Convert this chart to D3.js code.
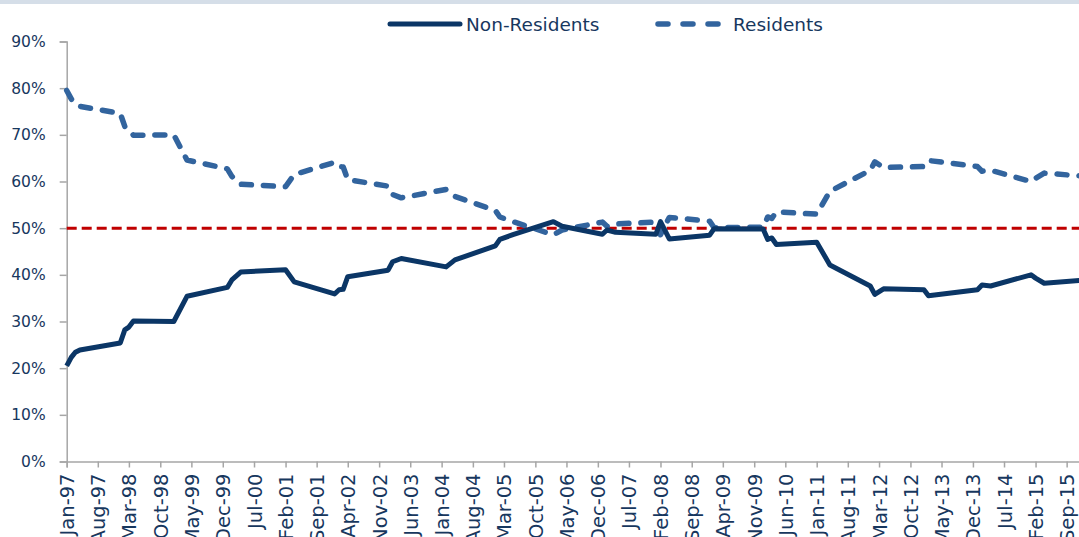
<!DOCTYPE html>
<html><head><meta charset="utf-8">
<script src="https://cdn.jsdelivr.net/npm/d3@7"></script>
<style>body{margin:0;background:#fff;} svg{display:block;}</style>
</head><body>
<svg id="chart" width="1079" height="537"></svg>
<script>
// Data (month, % share)
const months = ["1997-01","1997-02","1997-03","1997-04","1998-01","1998-02","1998-03","1998-04","1999-01","1999-04","2000-01","2000-02","2000-04","2001-02","2001-04","2002-01","2002-02","2002-03","2002-04","2003-01","2003-02","2003-04","2004-02","2004-04","2005-01","2005-02","2005-05","2006-02","2006-04","2007-01","2007-02","2007-04","2008-01","2008-02","2008-04","2009-01","2009-02","2010-01","2010-02","2010-03","2010-04","2011-01","2011-04","2012-01","2012-02","2012-04","2013-01","2013-02","2014-01","2014-02","2014-04","2015-01","2015-02","2015-04","2015-12"];
const nonResidents = [20.5,22.3,23.4,23.9,25.4,28.2,28.8,30.1,30.0,35.4,37.3,38.9,40.6,41.1,38.5,35.9,36.8,36.9,39.6,41.0,42.8,43.5,41.7,43.2,46.2,47.6,48.6,51.4,50.4,48.7,49.6,49.1,48.7,51.4,47.7,48.5,49.9,49.8,47.6,47.9,46.5,47.0,42.1,37.6,35.8,37.0,36.8,35.5,36.8,37.8,37.6,40.0,39.3,38.2,38.8];
const residents = [79.5,77.7,76.6,76.1,74.6,71.8,71.2,69.9,70.0,64.6,62.7,61.1,59.4,58.9,61.5,64.1,63.2,63.1,60.4,59.0,57.2,56.5,58.3,56.8,53.8,52.4,51.4,48.6,49.6,51.3,50.4,50.9,51.3,48.6,52.3,51.5,50.1,50.2,52.4,52.1,53.5,53.0,57.9,62.4,64.2,63.0,63.2,64.5,63.2,62.2,62.4,60.0,60.7,61.8,61.2];
const threshold = 50;
const yTicks = [0,10,20,30,40,50,60,70,80,90];
const seriesNames = ["Non-Residents","Residents"];

const parse = d3.timeParse("%Y-%m");
const start = new Date(1997,0,1);
const xTickDates = d3.range(0, 225, 7).map(m => d3.timeMonth.offset(start, m));

const svg = d3.select("#chart");
const textColor = "#17375e";
const axisColor = "#a6a6a6";
const font = "DejaVu Sans, Verdana, sans-serif";

svg.append("rect").attr("x",0).attr("y",0).attr("width",1079).attr("height",4).attr("fill","#d5dee8");

const x = d3.scaleTime().domain([start, d3.timeMonth.offset(start, 227)]).range([66.7, 1080]);
const y = d3.scaleLinear().domain([0, 90]).range([461.5, 41.5]);

// Y axis
const yAxis = svg.append("g").attr("transform","translate(66.7,0)")
  .call(d3.axisLeft(y).tickValues(yTicks).tickFormat(d => d + "%").tickSizeOuter(0).tickSize(7).tickPadding(14));
yAxis.select(".domain").attr("stroke",axisColor).attr("stroke-width",1.5);
yAxis.selectAll(".tick line").attr("stroke",axisColor).attr("stroke-width",1.5);
yAxis.selectAll(".tick text").attr("fill",textColor).style("font-family",font).style("font-size","15.5px");

// X axis
const xAxis = svg.append("g").attr("transform","translate(0,461.5)")
  .call(d3.axisBottom(x).tickValues(xTickDates).tickFormat(d3.timeFormat("%b-%y")).tickSizeOuter(0).tickSize(6));
xAxis.select(".domain").attr("stroke",axisColor).attr("stroke-width",1.5);
xAxis.selectAll(".tick line").attr("stroke",axisColor).attr("stroke-width",1.5);
xAxis.selectAll(".tick text")
  .attr("fill",textColor).style("font-family",font).style("font-size","19.5px")
  .attr("transform","rotate(-90)").attr("text-anchor","end")
  .attr("x",-12).attr("y",0).attr("dy","0.36em");

// 50% threshold
svg.append("line").attr("x1",x.range()[0]).attr("x2",1079).attr("y1",y(threshold)).attr("y2",y(threshold))
  .attr("stroke","#c00000").attr("stroke-width",3).attr("stroke-dasharray","10,5");

const dates = months.map(parse);
const line = d3.line().x((d,i)=>x(dates[i])).y(d=>y(d));

svg.append("path").datum(residents).attr("d",line).attr("fill","none")
  .attr("stroke","#32649e").attr("stroke-width",5.5).attr("stroke-linecap","round").attr("stroke-linejoin","round")
  .attr("stroke-dasharray","10,12");
svg.append("path").datum(nonResidents).attr("d",line).attr("fill","none")
  .attr("stroke","#0b3666").attr("stroke-width",5).attr("stroke-linejoin","round");

// Legend
const lg = svg.append("g");
lg.append("line").attr("x1",390).attr("x2",460).attr("y1",24).attr("y2",24)
  .attr("stroke","#0b3666").attr("stroke-width",5).attr("stroke-linecap","round");
lg.append("text").attr("x",466).attr("y",24).attr("dy","0.36em").text(seriesNames[0])
  .attr("fill",textColor).style("font-family",font).style("font-size","18.5px");
lg.append("line").attr("x1",658).attr("x2",718).attr("y1",24).attr("y2",24)
  .attr("stroke","#32649e").attr("stroke-width",5.5).attr("stroke-linecap","round").attr("stroke-dasharray","10,15");
lg.append("text").attr("x",733).attr("y",24).attr("dy","0.36em").text(seriesNames[1])
  .attr("fill",textColor).style("font-family",font).style("font-size","18.5px");
</script>
</body></html>
